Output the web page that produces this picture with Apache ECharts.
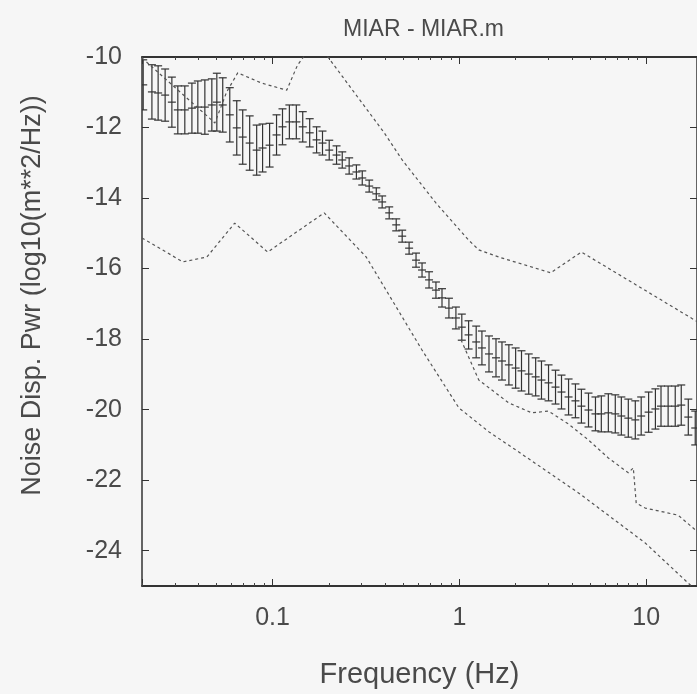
<!DOCTYPE html>
<html>
<head>
<meta charset="utf-8">
<script src="https://cdn.jsdelivr.net/npm/echarts@6/dist/echarts.min.js"></script>
<style>html,body{margin:0;height:100%;background:#f6f6f6;}</style>
</head>
<body>
<div id="main" style="width:697px;height:694px;"></div>
<script>
// error bar points: frequency (Hz), mean and spread of log10 power
var barFreq = [0.0203, 0.0226, 0.0244, 0.0266, 0.0289, 0.0311, 0.0339, 0.0370, 0.0398, 0.0434,
    0.0473, 0.0503, 0.0541, 0.0590, 0.0643, 0.0692, 0.0754, 0.0822, 0.0884, 0.0964,
    0.105, 0.113, 0.123, 0.134, 0.145, 0.158, 0.172, 0.185, 0.201, 0.220,
    0.236, 0.257, 0.281, 0.302, 0.329, 0.359, 0.386, 0.421, 0.459, 0.494,
    0.538, 0.586, 0.631, 0.688, 0.749, 0.807, 0.879, 0.958, 1.03, 1.12,
    1.23, 1.32, 1.44, 1.57, 1.69, 1.84, 2.00, 2.15, 2.35, 2.56,
    2.75, 3.00, 3.27, 3.52, 3.84, 4.18, 4.50, 4.91, 5.35, 5.75,
    6.27, 6.83, 7.36, 8.02, 8.74, 9.40, 10.3, 11.2, 12.0, 13.1,
    14.3, 15.4, 16.8, 18.3];
var barMean = [-10.79, -10.99, -11.02, -11.08, -11.28, -11.50, -11.50, -11.45, -11.42, -11.42,
    -11.36, -11.28, -11.36, -11.64, -12.01, -12.27, -12.44, -12.64, -12.58, -12.50,
    -12.21, -11.98, -11.84, -11.84, -11.98, -12.15, -12.35, -12.44, -12.64, -12.78,
    -12.92, -13.09, -13.26, -13.43, -13.66, -13.88, -14.11, -14.42, -14.76, -15.08,
    -15.42, -15.76, -16.04, -16.32, -16.61, -16.83, -17.12, -17.40, -17.66, -17.88,
    -18.08, -18.25, -18.42, -18.53, -18.62, -18.73, -18.82, -18.90, -18.99, -19.07,
    -19.16, -19.24, -19.36, -19.50, -19.64, -19.75, -19.90, -20.01, -20.12, -20.12,
    -20.09, -20.12, -20.18, -20.24, -20.29, -20.18, -20.07, -19.98, -19.90, -19.90,
    -19.90, -19.87, -20.21, -20.52];
var barErr = [0.71, 0.77, 0.77, 0.74, 0.71, 0.68, 0.68, 0.71, 0.74, 0.77,
    0.74, 0.82, 0.77, 0.77, 0.77, 0.77, 0.77, 0.71, 0.68, 0.62,
    0.57, 0.51, 0.48, 0.48, 0.43, 0.40, 0.37, 0.34, 0.28, 0.26,
    0.23, 0.23, 0.20, 0.20, 0.17, 0.17, 0.17, 0.17, 0.17, 0.17,
    0.17, 0.20, 0.20, 0.23, 0.23, 0.26, 0.28, 0.31, 0.37, 0.40,
    0.45, 0.48, 0.51, 0.54, 0.54, 0.57, 0.57, 0.57, 0.57, 0.54,
    0.54, 0.51, 0.48, 0.48, 0.51, 0.48, 0.48, 0.48, 0.48, 0.51,
    0.54, 0.54, 0.54, 0.54, 0.54, 0.54, 0.57, 0.57, 0.57, 0.57,
    0.57, 0.57, 0.51, 0.48];

// dashed envelope curves
var upperFreq = [0.02, 0.0491, 0.0568, 0.0651, 0.0874, 0.119, 0.136, 0.163, 0.194, 0.396, 0.494, 0.749, 1.12, 1.27, 1.62, 3.08, 4.50, 18.7];
var upperPwr = [-10.03, -11.87, -10.99, -10.45, -10.74, -10.94, -10.23, -9.66, -9.94, -12.15, -12.92, -14.14, -15.19, -15.47, -15.67, -16.12, -15.53, -17.5];
var lowerFreq = [0.02, 0.0331, 0.0445, 0.0627, 0.0941, 0.189, 0.317, 0.494, 0.631, 0.994, 1.44, 2.00, 4.34, 9.88, 16.1, 18.7];
var lowerPwr = [-15.13, -15.81, -15.67, -14.71, -15.53, -14.42, -15.67, -17.37, -18.31, -19.95, -20.63, -21.14, -22.36, -23.78, -24.83, -25.15];
var midFreq = [1.02, 1.27, 1.84, 2.44, 3.00, 3.84, 4.91, 6.27, 8.02, 8.53, 8.84, 9.88, 14.8, 18.7];
var midPwr = [-18.02, -19.16, -19.81, -20.09, -20.04, -20.41, -20.86, -21.37, -21.79, -21.65, -22.65, -22.79, -22.99, -23.45];

var FONT = "'Liberation Sans', Arial, sans-serif";
var INK = '#333';
var TXT = '#4a4a4a';

function pairs(xs, ys) {
    var out = [];
    for (var i = 0; i < xs.length; i++) out.push([xs[i], ys[i]]);
    return out;
}

var barData = [];
for (var i = 0; i < barFreq.length; i++) {
    barData.push([barFreq[i], barMean[i] - barErr[i], barMean[i] + barErr[i], barMean[i]]);
}

function drawBar(params, api) {
    var f = api.value(0);
    var lo = api.coord([f, api.value(1)]);
    var hi = api.coord([f, api.value(2)]);
    var mid = api.coord([f, api.value(3)]);
    var w = 4;
    var st = {stroke: INK, lineWidth: 1.2};
    return {
        type: 'group',
        children: [
            {type: 'line', shape: {x1: hi[0], y1: hi[1], x2: lo[0], y2: lo[1]}, style: st},
            {type: 'line', shape: {x1: hi[0] - w, y1: hi[1], x2: hi[0] + w, y2: hi[1]}, style: st},
            {type: 'line', shape: {x1: lo[0] - w, y1: lo[1], x2: lo[0] + w, y2: lo[1]}, style: st},
            {type: 'line', shape: {x1: mid[0] - w, y1: mid[1], x2: mid[0] + w, y2: mid[1]}, style: st}
        ]
    };
}

function freqAxis(pos, labels) {
    return {
        type: 'log',
        logBase: 10,
        position: pos,
        min: 0.02,
        max: 18.7,
        name: labels ? 'Frequency (Hz)' : '',
        nameLocation: 'middle',
        nameGap: 74,
        nameTextStyle: {fontFamily: FONT, fontSize: 29, color: TXT},
        axisLine: {show: true, lineStyle: {color: INK, width: 1.8}},
        axisTick: {show: true, inside: true, length: 7, lineStyle: {color: INK}},
        minorTick: {show: true, splitNumber: 9, length: 3, lineStyle: {color: '#444'}},
        axisLabel: {show: labels, showMinLabel: false, showMaxLabel: false, margin: 20,
            fontFamily: FONT, fontSize: 25, color: TXT},
        splitLine: {show: false},
        minorSplitLine: {show: false}
    };
}

function pwrAxis(pos, labels) {
    return {
        type: 'value',
        position: pos,
        min: -25,
        max: -10,
        splitNumber: 7,
        name: labels ? 'Noise Disp. Pwr (log10(m**2/Hz))' : '',
        nameLocation: 'middle',
        nameRotate: 90,
        nameGap: 96,
        nameTextStyle: {fontFamily: FONT, fontSize: 27, color: TXT, padding: [0, 0, 0, 52]},
        axisLine: {show: true, lineStyle: {color: INK, width: 1.5}},
        axisTick: {show: true, inside: true, length: 7, lineStyle: {color: INK}},
        axisLabel: {show: labels, showMinLabel: false, margin: 20,
            fontFamily: FONT, fontSize: 25, color: TXT},
        splitLine: {show: false}
    };
}

var dash = {color: '#555', width: 1.2, type: [3, 3]};

var myChart = echarts.init(document.getElementById('main'));
var option = {
    backgroundColor: '#f6f6f6',
    animation: false,
    title: {
        text: 'MIAR - MIAR.m',
        left: 338,
        top: 13,
        textStyle: {fontFamily: FONT, fontSize: 23, fontWeight: 'normal', color: TXT}
    },
    grid: {left: 142, right: -2, top: 57, bottom: 108},
    xAxis: [freqAxis('bottom', true), freqAxis('top', false)],
    yAxis: [pwrAxis('left', true), pwrAxis('right', false)],
    series: [
        {type: 'line', name: 'max', data: pairs(upperFreq, upperPwr), showSymbol: false, lineStyle: dash, clip: true},
        {type: 'line', name: 'min', data: pairs(lowerFreq, lowerPwr), showSymbol: false, lineStyle: dash, clip: true},
        {type: 'line', name: 'low', data: pairs(midFreq, midPwr), showSymbol: false, lineStyle: dash, clip: true},
        {type: 'custom', name: 'mean', renderItem: drawBar, data: barData, clip: true,
            encode: {x: 0, y: [1, 2, 3]}}
    ]
};
myChart.setOption(option);
</script>
</body>
</html>
